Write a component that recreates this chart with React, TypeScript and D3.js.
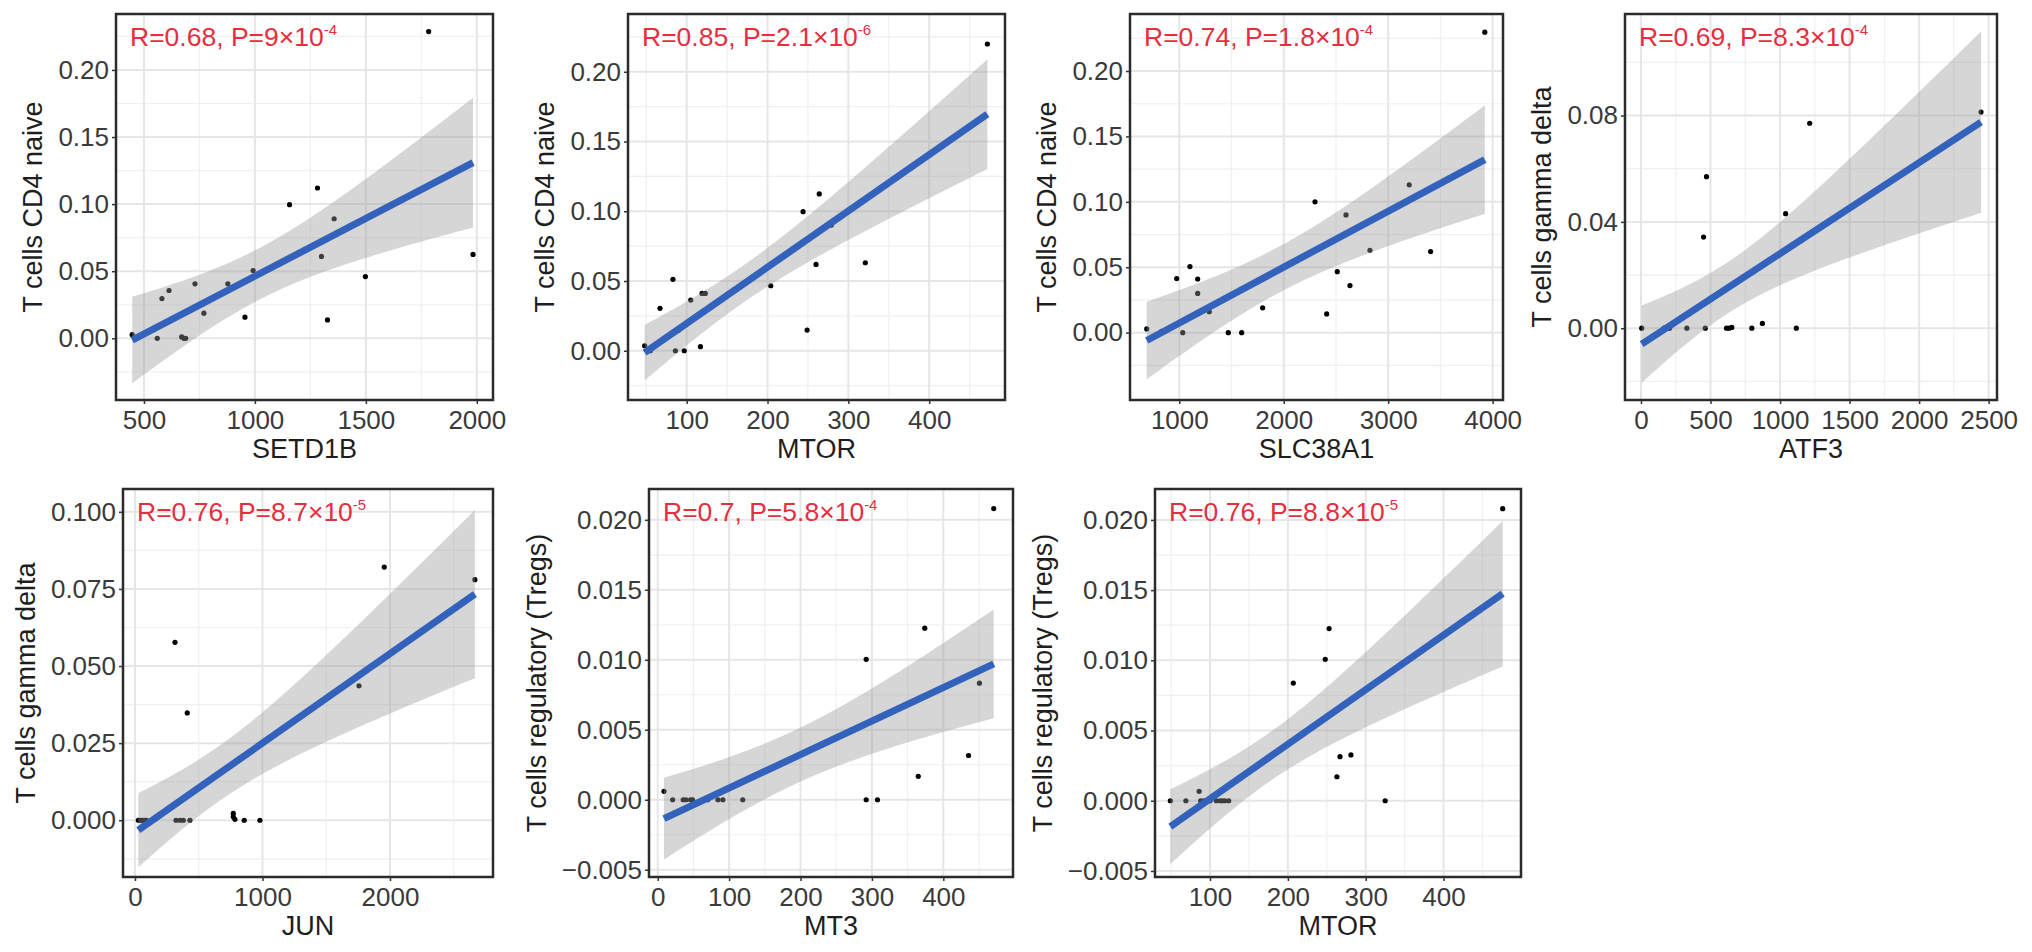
import { useEffect, useRef } from "react";
import * as d3 from "d3";

// SETD1B vs T cells CD4 naive
const setd1b = [1783, 1282, 1156, 1357, 1300, 1983, 1498, 992, 878, 730, 613, 581, 770, 955, 1327, 447, 560, 670, 680, 688];
const cd4NaiveA = [0.2286, 0.112, 0.0996, 0.0891, 0.061, 0.0625, 0.046, 0.0505, 0.0406, 0.0406, 0.0356, 0.0296, 0.0187, 0.0157, 0.0137, 0.0027, 0, 0.001, 0, 0];

// MTOR vs T cells CD4 naive
const mtorA = [48, 67, 83, 86, 97, 105, 119, 123, 117, 204, 244, 264, 279, 260, 249, 321, 472, 99, 90, 55];
const cd4NaiveB = [0.0036, 0.0304, 0.0512, 0, 0, 0.0363, 0.0411, 0.0411, 0.0029, 0.0466, 0.0997, 0.1124, 0.0901, 0.0619, 0.0148, 0.0631, 0.2199, 0.0187, 0.0147, 0];

// SLC38A1 vs T cells CD4 naive
const slc38a1 = [688, 975, 1102, 1176, 1176, 1033, 1287, 1469, 1597, 1798, 2299, 2596, 2512, 2411, 2634, 3201, 2825, 3406, 3925, 830];
const cd4NaiveC = [0.0028, 0.0413, 0.0505, 0.041, 0.03, 0, 0.016, 0, 0, 0.019, 0.1, 0.09, 0.0466, 0.0143, 0.036, 0.113, 0.063, 0.062, 0.2297, 0.001];

// ATF3 vs T cells gamma delta (last six sit under the fit line)
const atf3 = [5, 330, 462, 471, 450, 615, 634, 653, 797, 873, 1117, 1040, 1213, 2445, 165, 175, 185, 195, 205, 215];
const gammaDeltaA = [0, 0, 0, 0.057, 0.0343, 0, 0, 0.0003, 0, 0.0018, 0, 0.0431, 0.0771, 0.0813, 0, 0, 0, 0, 0, 0.0011];

// JUN vs T cells gamma delta (last five sit under the start of the fit line)
const jun = [26, 314, 410, 322, 353, 379, 431, 771, 771, 784, 857, 980, 1757, 1955, 2666, 40, 50, 60, 75, 90];
const gammaDeltaB = [0, 0.0577, 0.0348, 0, 0, 0, 0, 0.0022, 0.0011, 0.0003, 0, 0, 0.0436, 0.0821, 0.078, 0, 0, 0, 0, 0];

// MT3 vs T cells regulatory (Tregs)
const mt3 = [8.8, 20.9, 35.7, 39.4, 45.9, 48.7, 84.4, 91.3, 119.1, 292, 292, 307.8, 470.6, 374, 450.6, 435.3, 364.9, 64, 70, 198];
const tregsA = [0.0006, 0, 0, 0, 0, 0, 0, 0, 0, 0.01003, 0, 0, 0.0208, 0.01226, 0.00833, 0.00316, 0.00167, 0, 0, 0.0032];

// MTOR vs T cells regulatory (Tregs)
const mtorB = [49, 69, 86, 88, 108, 119, 124, 207, 248, 253, 263, 267, 281, 325, 476, 92, 97, 100, 113, 116];
const tregsB = [0, 0, 0.00067, 0, 0, 0, 0, 0.00838, 0.01007, 0.01226, 0.00171, 0.00314, 0.00326, 0, 0.0208, 0, 0, 0, 0, 0];

const xLabels = ["SETD1B", "MTOR", "SLC38A1", "ATF3", "JUN", "MT3", "MTOR"];
const yLabels = [
  "T cells CD4 naive",
  "T cells CD4 naive",
  "T cells CD4 naive",
  "T cells gamma delta",
  "T cells gamma delta",
  "T cells regulatory (Tregs)",
  "T cells regulatory (Tregs)",
];
const rValues = ["0.68", "0.85", "0.74", "0.69", "0.76", "0.7", "0.76"];
const pMantissa = ["9", "2.1", "1.8", "8.3", "8.7", "5.8", "8.8"];
const pExponent = ["-4", "-6", "-4", "-4", "-5", "-4", "-5"];

const xDomains = [
  [374, 2073],
  [27.4, 493.8],
  [528, 4099],
  [-115, 2560],
  [-94, 2808],
  [-12.2, 497.6],
  [29.3, 499.5],
];
const yDomains = [
  [-0.046, 0.2417],
  [-0.0353, 0.2414],
  [-0.0515, 0.2436],
  [-0.027, 0.1182],
  [-0.0184, 0.1074],
  [-0.00552, 0.0222],
  [-0.00543, 0.0222],
];
const xTicks = [
  [500, 1000, 1500, 2000],
  [100, 200, 300, 400],
  [1000, 2000, 3000, 4000],
  [0, 500, 1000, 1500, 2000, 2500],
  [0, 1000, 2000],
  [0, 100, 200, 300, 400],
  [100, 200, 300, 400],
];
const yTicks = [
  [0, 0.05, 0.1, 0.15, 0.2],
  [0, 0.05, 0.1, 0.15, 0.2],
  [0, 0.05, 0.1, 0.15, 0.2],
  [0, 0.04, 0.08],
  [0, 0.025, 0.05, 0.075, 0.1],
  [-0.005, 0, 0.005, 0.01, 0.015, 0.02],
  [-0.005, 0, 0.005, 0.01, 0.015, 0.02],
];
const yDecimals = [2, 2, 2, 2, 3, 3, 3];

const panelX = [setd1b, mtorA, slc38a1, atf3, jun, mt3, mtorB];
const panelY = [cd4NaiveA, cd4NaiveB, cd4NaiveC, gammaDeltaA, gammaDeltaB, tregsA, tregsB];

// panel frames in page pixels
const FRAMES = [
  { left: 116, top: 14, right: 493, bottom: 400 },
  { left: 628, top: 14, right: 1005, bottom: 400 },
  { left: 1130, top: 14, right: 1503, bottom: 400 },
  { left: 1625, top: 14, right: 1997, bottom: 400 },
  { left: 123, top: 489, right: 493, bottom: 877 },
  { left: 649, top: 489, right: 1013, bottom: 877 },
  { left: 1155, top: 489, right: 1521, bottom: 877 },
];

const FONT = "'Liberation Sans', Arial, Helvetica, sans-serif";
const RED = "#e62e3e";
const BLUE = "#3262bc";

// 97.5% quantile of Student's t (Cornish-Fisher expansion)
function tQuantile975(df: number) {
  const z = 1.959964;
  const z3 = z ** 3, z5 = z ** 5, z7 = z ** 7;
  return (
    z +
    (z3 + z) / (4 * df) +
    (5 * z5 + 16 * z3 + 3 * z) / (96 * df ** 2) +
    (3 * z7 + 19 * z5 + 17 * z3 - 15 * z) / (384 * df ** 3)
  );
}

// ordinary least squares with 95% confidence band, like geom_smooth(method = "lm")
function linearFit(xs: number[], ys: number[]) {
  const n = xs.length;
  const mx = d3.mean(xs)!;
  const my = d3.mean(ys)!;
  const sxx = d3.sum(xs, (v) => (v - mx) ** 2);
  const sxy = d3.sum(xs, (v, k) => (v - mx) * (ys[k] - my));
  const slope = sxy / sxx;
  const icpt = my - slope * mx;
  const sse = d3.sum(xs, (v, k) => (ys[k] - icpt - slope * v) ** 2);
  const s = Math.sqrt(sse / (n - 2));
  const t = tQuantile975(n - 2);
  return {
    predict: (v: number) => icpt + slope * v,
    half: (v: number) => t * s * Math.sqrt(1 / n + (v - mx) ** 2 / sxx),
  };
}

function minorBreaks(major: number[], domain: number[]) {
  const step = major[1] - major[0];
  const out: number[] = [];
  for (let v = major[0] - step / 2; v <= domain[1]; v += step) {
    if (v >= domain[0]) out.push(v);
  }
  return out;
}

export default function App() {
  const svgRef = useRef<SVGSVGElement>(null);

  useEffect(() => {
    if (!svgRef.current) return;
    const svg = d3.select(svgRef.current);
    svg.selectAll("*").remove();

    panelX.forEach((xs, i) => {
      const ys = panelY[i];
      const f = FRAMES[i];
      const x = d3.scaleLinear().domain(xDomains[i]).range([f.left, f.right]);
      const y = d3.scaleLinear().domain(yDomains[i]).range([f.bottom, f.top]);
      const g = svg.append("g");

      const clipId = `panel-clip-${i}`;
      g.append("clipPath")
        .attr("id", clipId)
        .append("rect")
        .attr("x", f.left)
        .attr("y", f.top)
        .attr("width", f.right - f.left)
        .attr("height", f.bottom - f.top);

      const inner = g.append("g").attr("clip-path", `url(#${clipId})`);
      inner
        .append("rect")
        .attr("x", f.left)
        .attr("y", f.top)
        .attr("width", f.right - f.left)
        .attr("height", f.bottom - f.top)
        .attr("fill", "#fff");

      // grid
      const xMinor = minorBreaks(xTicks[i], xDomains[i]);
      const yMinor = minorBreaks(yTicks[i], yDomains[i]);
      inner.selectAll(".vminor").data(xMinor).join("line")
        .attr("x1", (d) => x(d)).attr("x2", (d) => x(d))
        .attr("y1", f.top).attr("y2", f.bottom)
        .attr("stroke", "#f0f0f0").attr("stroke-width", 1.2);
      inner.selectAll(".hminor").data(yMinor).join("line")
        .attr("y1", (d) => y(d)).attr("y2", (d) => y(d))
        .attr("x1", f.left).attr("x2", f.right)
        .attr("stroke", "#f0f0f0").attr("stroke-width", 1.2);
      inner.selectAll(".vmajor").data(xTicks[i]).join("line")
        .attr("x1", (d) => x(d)).attr("x2", (d) => x(d))
        .attr("y1", f.top).attr("y2", f.bottom)
        .attr("stroke", "#e6e6e6").attr("stroke-width", 2);
      inner.selectAll(".hmajor").data(yTicks[i]).join("line")
        .attr("y1", (d) => y(d)).attr("y2", (d) => y(d))
        .attr("x1", f.left).attr("x2", f.right)
        .attr("stroke", "#e6e6e6").attr("stroke-width", 2);

      // points
      inner.selectAll(".pt").data(xs).join("circle")
        .attr("cx", (d) => x(d))
        .attr("cy", (_, k) => y(ys[k]))
        .attr("r", 2.6)
        .attr("fill", "#000");

      // regression line and confidence band
      const fit = linearFit(xs, ys);
      const [lo, hi] = d3.extent(xs) as [number, number];
      const grid = d3.range(0, 81).map((k) => lo + ((hi - lo) * k) / 80);
      inner.append("path")
        .datum(grid)
        .attr("fill", "#999999")
        .attr("fill-opacity", 0.4)
        .attr("d", d3.area<number>()
          .x((d) => x(d))
          .y0((d) => y(fit.predict(d) - fit.half(d)))
          .y1((d) => y(fit.predict(d) + fit.half(d))));
      inner.append("path")
        .datum([lo, hi])
        .attr("fill", "none")
        .attr("stroke", BLUE)
        .attr("stroke-width", 7)
        .attr("d", d3.line<number>().x((d) => x(d)).y((d) => y(fit.predict(d))));

      // frame
      g.append("rect")
        .attr("x", f.left)
        .attr("y", f.top)
        .attr("width", f.right - f.left)
        .attr("height", f.bottom - f.top)
        .attr("fill", "none")
        .attr("stroke", "#2b2b2b")
        .attr("stroke-width", 2.5);

      // axes
      const xAxis = g.append("g")
        .attr("transform", `translate(0,${f.bottom})`)
        .call(d3.axisBottom(x).tickValues(xTicks[i]).tickSize(4).tickPadding(7).tickFormat(d3.format("d")));
      const yAxis = g.append("g")
        .attr("transform", `translate(${f.left},0)`)
        .call(
          d3.axisLeft(y)
            .tickValues(yTicks[i])
            .tickSize(4)
            .tickPadding(3)
            .tickFormat(d3.format(`.${yDecimals[i]}f`) as (d: d3.NumberValue) => string),
        );
      for (const ax of [xAxis, yAxis]) {
        ax.select(".domain").remove();
        ax.selectAll(".tick line").attr("stroke", "#333").attr("stroke-width", 1.5);
        ax.selectAll(".tick text")
          .attr("fill", "#3a3a3a")
          .style("font-family", FONT)
          .style("font-size", "26px");
      }

      // axis titles
      g.append("text")
        .attr("x", (f.left + f.right) / 2)
        .attr("y", f.bottom + 58)
        .attr("text-anchor", "middle")
        .attr("fill", "#1e1e1e")
        .style("font-family", FONT)
        .style("font-size", "27px")
        .text(xLabels[i]);

      // getBBox is in the axis group's own coordinates, so add its offset
      const bb = (yAxis.node() as SVGGElement).getBBox();
      const titleX = f.left + bb.x - 16;
      g.append("text")
        .attr("transform", `translate(${titleX},${(f.top + f.bottom) / 2}) rotate(-90)`)
        .attr("text-anchor", "middle")
        .attr("fill", "#1e1e1e")
        .style("font-family", FONT)
        .style("font-size", "27px")
        .text(yLabels[i]);

      // correlation label
      const lab = g.append("text")
        .attr("x", f.left + 14)
        .attr("y", f.top + 32)
        .attr("fill", RED)
        .style("font-family", FONT)
        .style("font-size", "26.5px");
      lab.append("tspan").text(`R=${rValues[i]}, P=${pMantissa[i]}×10`);
      lab.append("tspan").attr("dy", -11).style("font-size", "15px").text(pExponent[i]);
    });
  }, []);

  return (
    <svg
      ref={svgRef}
      width={2032}
      height={952}
      style={{ position: "absolute", left: 0, top: 0, background: "#fff" }}
    />
  );
}
